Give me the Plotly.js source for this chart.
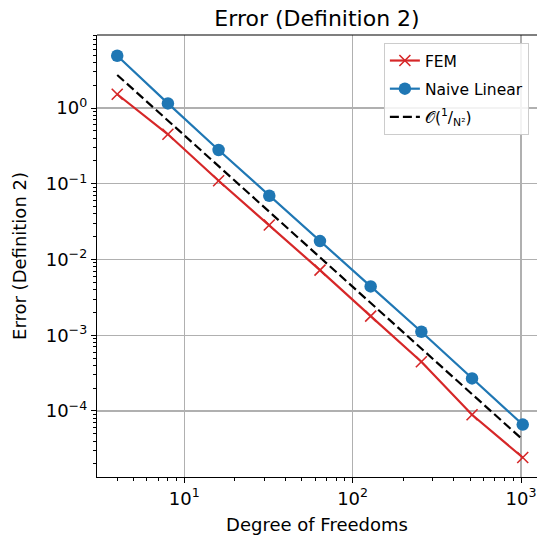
<!DOCTYPE html>
<html><head><meta charset="utf-8">
<script src="https://cdn.plot.ly/plotly-3.0.1.min.js"></script>
<style>html,body{margin:0;padding:0;background:#fff}</style>
</head><body>
<div id="chart" style="width:537px;height:536px"></div>
<script>
const dofs = [4, 8, 16, 32, 64, 128, 256, 512, 1024];
const femError = [1.52, 0.45, 0.1096, 0.0285, 0.00724, 0.00179, 0.000446, 0.000089, 0.0000243];
const naiveError = [4.9, 1.15, 0.279, 0.0695, 0.0175, 0.00441, 0.00111, 0.000269, 0.000066];
const refError = [2.73, 0.683, 0.171, 0.0427, 0.0107, 0.00267, 0.000667, 0.000167, 0.0000417];
const xTickVals = [10, 100, 1000];
const xTickText = ['10<sup>1</sup>', '10<sup>2</sup>', '10<sup>3</sup>'];
const yTickVals = [1, 0.1, 0.01, 0.001, 0.0001];
const yTickText = ['10<sup>0</sup>', '10<sup>−1</sup>', '10<sup>−2</sup>', '10<sup>−3</sup>', '10<sup>−4</sup>'];

const traces = [
  {x: dofs, y: femError, name: 'FEM', legendgroup: 'a', mode: 'lines+markers', type: 'scatter',
   line: {color: '#d62728', width: 2.2},
   marker: {symbol: 'x-thin', size: 11, line: {color: '#d62728', width: 1.6}, color: '#d62728'}},
  {x: dofs, y: naiveError, name: 'Naive Linear', legendgroup: 'b', mode: 'lines+markers', type: 'scatter',
   line: {color: '#1f77b4', width: 2.2},
   marker: {symbol: 'circle', size: 12.5, color: '#1f77b4'}},
  {x: dofs, y: refError, name: '𝒪(<sup>1</sup>/<sub>N²</sub>)', legendgroup: 'c', mode: 'lines', type: 'scatter',
   line: {color: '#000000', width: 2.2, dash: '9px,4px'}}
];

const axisFont = {family: 'DejaVu Sans', size: 18, color: '#000'};
const layout = {
  width: 537, height: 536,
  margin: {l: 97, r: 0, t: 35, b: 59},
  paper_bgcolor: '#fff', plot_bgcolor: '#fff',
  font: {family: 'DejaVu Sans', color: '#000'},
  title: {text: 'Error (Definition 2)', font: {family: 'DejaVu Sans', size: 22, color: '#000'},
          x: 0.5, xref: 'paper', y: 0.966, yref: 'container', yanchor: 'middle'},
  xaxis: {type: 'log', range: [0.482, 3.095], tickmode: 'array', tickvals: xTickVals, ticktext: xTickText,
          ticks: 'outside', ticklen: 5, tickwidth: 1, tickcolor: '#000', tickfont: axisFont,
          showgrid: true, gridcolor: '#b0b0b0', gridwidth: 1.4, zeroline: false,
          showline: true, linecolor: '#000', linewidth: 1.2, mirror: false,
          minor: {dtick: 'D1', ticks: 'outside', ticklen: 3, tickcolor: '#000', showgrid: false},
          title: {text: 'Degree of Freedoms', font: {family: 'DejaVu Sans', size: 18, color: '#000'}, standoff: 10}},
  yaxis: {type: 'log', range: [-4.872, 0.964], tickmode: 'array', tickvals: yTickVals, ticktext: yTickText,
          ticks: 'outside', ticklen: 5, tickwidth: 1, tickcolor: '#000', tickfont: axisFont,
          showgrid: true, gridcolor: '#b0b0b0', gridwidth: 1.4, zeroline: false,
          showline: true, linecolor: '#000', linewidth: 1.2, mirror: false,
          minor: {dtick: 'D1', ticks: 'outside', ticklen: 3, tickcolor: '#000', showgrid: false},
          title: {text: 'Error (Definition 2)', font: {family: 'DejaVu Sans', size: 18, color: '#000'}, standoff: 14}},
  legend: {x: 0.652, y: 0.982, xanchor: 'left', yanchor: 'top', bgcolor: 'rgba(255,255,255,0.85)',
           bordercolor: '#cccccc', borderwidth: 1, font: {family: 'DejaVu Sans', size: 15.5, color: '#000'},
           traceorder: 'grouped', tracegroupgap: 5},
  shapes: [{type: 'line', xref: 'paper', yref: 'paper', x0: 0, x1: 1, y0: 1, y1: 1,
            line: {color: '#000', width: 1.2}}],
  showlegend: true
};
Plotly.newPlot('chart', traces, layout, {displayModeBar: false, staticPlot: true});
</script>
</body></html>
